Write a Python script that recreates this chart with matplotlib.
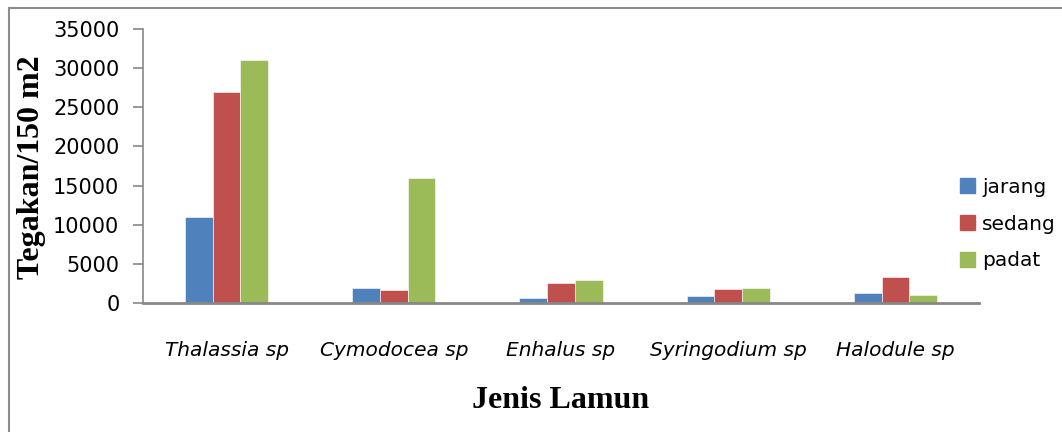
import numpy as np
import matplotlib
matplotlib.use("Agg")
import matplotlib.pyplot as plt
from matplotlib.patches import Rectangle
from matplotlib.lines import Line2D

# data
species = ["Thalassia sp", "Cymodocea sp", "Enhalus sp", "Syringodium sp", "Halodule sp"]
jarang = [11000, 1900, 700, 900, 1300]
sedang = [27000, 1650, 2600, 1800, 3300]
padat = [31000, 16000, 3000, 1950, 1050]
series_names = ["jarang", "sedang", "padat"]
colors = ["#4F81BD", "#C0504D", "#9BBB59"]
yticks = [0, 5000, 10000, 15000, 20000, 25000, 30000, 35000]

plt.rcParams['font.family'] = ['DejaVu Sans']

fig = plt.figure(figsize=(10.62, 4.32), dpi=100)
ax = fig.add_axes([143 / 1062, 1 - 303 / 432, (979 - 143) / 1062, (303 - 29) / 432])

x = np.arange(len(species))
w = 0.166
for i, (vals, name, c) in enumerate(zip([jarang, sedang, padat], series_names, colors)):
    ax.bar(x + (i - 1) * w, vals, width=w, color=c, label=name, edgecolor="white", linewidth=0.4)

ax.set_xlim(-0.5, len(species) - 0.5)
ax.set_ylim(0, 35000)
ax.set_yticks(yticks)
ax.set_yticklabels([str(t) for t in yticks], fontsize=15)
ax.set_xticks(x)
ax.set_xticklabels(species, fontsize=14.5, style="italic")
ax.tick_params(axis="x", length=0, pad=27)
ax.tick_params(axis="y", length=7, width=1.2, color="#878787", pad=10)

for s in ["top", "right"]:
    ax.spines[s].set_visible(False)
ax.spines["left"].set_color("#878787")
ax.spines["left"].set_linewidth(1.2)
ax.spines["bottom"].set_color("#878787")
ax.spines["bottom"].set_linewidth(2)

fig.text(32 / 1062, 1 - 167 / 432, "Tegakan/150 m2", rotation=90, ha="center", va="center",
         fontsize=23, fontweight="bold", family="Liberation Serif")
fig.text(561 / 1062, 1 - 400 / 432, "Jenis Lamun", ha="center", va="center",
         fontsize=23, fontweight="bold", family="Liberation Serif")

handles = [Rectangle((0, 0), 1, 1, color=c) for c in colors]
leg = fig.legend(handles, series_names, loc="center left", bbox_to_anchor=(960 / 1062, 1 - 224 / 432),
                 frameon=False, fontsize=14.5, handlelength=0.75, handleheight=0.75,
                 handletextpad=0.35, labelspacing=0.88, borderpad=0, borderaxespad=0)

# outer frame (top and left visible in the reference)
fig.add_artist(Line2D([8.5 / 1062, 8.5 / 1062], [0, 1 - 8 / 432], color="#8c8c8c", lw=1.5))
fig.add_artist(Line2D([8.5 / 1062, 1], [1 - 8 / 432, 1 - 8 / 432], color="#8c8c8c", lw=1.5))

fig.savefig("out.png", dpi=100)
